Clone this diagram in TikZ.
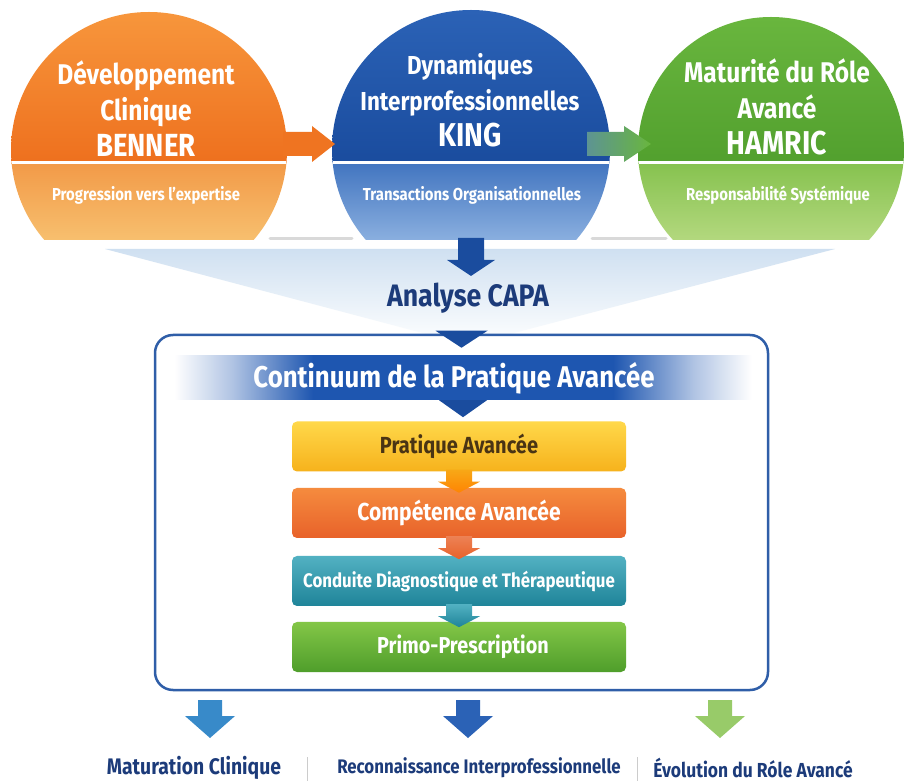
\documentclass[tikz,border=0pt]{standalone}
\usepackage{fontspec}
\setmainfont{Fira Sans}[FakeStretch=0.86]
\usetikzlibrary{positioning}
\usetikzlibrary{calc}

\definecolor{navytext}{HTML}{1C3B7A}
\definecolor{framelinecol}{HTML}{2F5EA8}
\definecolor{bandblue}{HTML}{1E56B0}
\definecolor{funnelblue}{HTML}{CFE0F1}
\definecolor{orangeA}{HTML}{F7963C}
\definecolor{orangeB}{HTML}{EE701E}
\definecolor{orangeC}{HTML}{F29A48}
\definecolor{orangeD}{HTML}{F7BF6E}
\definecolor{blueA}{HTML}{2B62B6}
\definecolor{blueB}{HTML}{1A4C9E}
\definecolor{blueC}{HTML}{4275C0}
\definecolor{blueD}{HTML}{8AAFDF}
\definecolor{greenA}{HTML}{69B63E}
\definecolor{greenB}{HTML}{52A02E}
\definecolor{greenC}{HTML}{86C24F}
\definecolor{greenD}{HTML}{B3D87E}
\definecolor{yellowA}{HTML}{FFD84A}
\definecolor{yellowB}{HTML}{F6B21C}
\definecolor{boxorangeA}{HTML}{F58B3E}
\definecolor{boxorangeB}{HTML}{E8622A}
\definecolor{tealA}{HTML}{52B1C2}
\definecolor{tealB}{HTML}{1F8499}
\definecolor{boxgreenA}{HTML}{83C647}
\definecolor{boxgreenB}{HTML}{4F9E2B}
\definecolor{browntext}{HTML}{4A3414}

\pgfdeclarehorizontalshading{bandfade}{100bp}{color(0bp)=(white); color(25bp)=(white); color(30bp)=(bandblue!35); color(37bp)=(bandblue); color(63bp)=(bandblue); color(70bp)=(bandblue!35); color(75bp)=(white); color(100bp)=(white)}

\tikzstyle{title}=[text=white,font=\bfseries\fontsize{28.5}{36}\selectfont,align=center]
\tikzstyle{subtitle}=[text=white,font=\bfseries\fontsize{17.3}{20}\selectfont]
\tikzstyle{heading}=[text=navytext,font=\bfseries\fontsize{31}{34}\selectfont]
\tikzstyle{continuumframe}=[draw=framelinecol,line width=2.5pt,fill=white,rounded corners=18pt,minimum width=613pt,minimum height=355pt]
\tikzstyle{band}=[shading=bandfade,minimum width=577pt,minimum height=44pt,text=white,font=\bfseries\fontsize{30}{32}\selectfont]
\tikzstyle{stepbox}=[rounded corners=5pt,minimum width=334pt,minimum height=50pt,font=\bfseries\fontsize{23.3}{26}\selectfont]
\tikzstyle{outcome}=[text=navytext,font=\bfseries\fontsize{20.3}{24}\selectfont]
\tikzstyle{separator}=[draw=gray!40,line width=1pt]

% down block arrow: start, half shaft, shaft length, half head, head length, fill options
\newcommand{\flowarrow}[6]{%
  \path[#6] (#1) ++(-#2,0) -- ++(0,#3) -- ++(#2-#4,0) -- ++(#4,#5) -- ++(#4,-#5) -- ++(#2-#4,0) -- ++(0,-#3) -- cycle;}

\begin{document}
\begin{tikzpicture}[x=1pt,y=-1pt]

    \useasboundingbox (0,0) rectangle (914,783);
    \fill[white] (0,0) rectangle (914,783);

    % funnel behind the three circles
    \shade[top color=funnelblue,bottom color=white] (105,249) -- (835,249) -- (468,345) -- cycle;

    \foreach \cx/\cy/\r/\upA/\upB/\lowA/\lowB/\name in {149/150/138/orangeA/orangeB/orangeC/orangeD/benner, 471/149/139/blueA/blueB/blueC/blueD/king, 771/150/133/greenA/greenB/greenC/greenD/hamric} {
        \coordinate (\name) at (\cx,\cy);
        \begin{scope}
            \clip (\cx,\cy) circle (\r);
            \shade[top color=\upA,bottom color=\upB] (\cx-\r,\cy-\r) rectangle (\cx+\r,163);
            \shade[top color=\lowA,bottom color=\lowB] (\cx-\r,163) rectangle (\cx+\r,240);
            \draw[white,line width=3pt] (\cx-\r,163) -- (\cx+\r,163);
        \end{scope}
    }

    \draw[gray!30,line width=3pt,line cap=round] (270,239) -- (352,239);
    \draw[gray!30,line width=3pt,line cap=round] (592,239) -- (666,239);

    \node[title] (t1) at (146,109) {Développement\\Clinique\\{\fontsize{32}{36}\selectfont BENNER}};
    \node[title,font=\bfseries\fontsize{26}{36}\selectfont] (t2) at (470,100) {Dynamiques\\Interprofessionnelles\\{\fontsize{33}{38}\selectfont KING}};
    \node[title] (t3) at (777,107) {Maturité du Róle\\Avancé\\{\fontsize{33}{36}\selectfont HAMRIC}};

    \node[subtitle] (s1) at (146,195) {Progression vers l’expertise};
    \node[subtitle] (s2) at (472,195) {Transactions Organisationnelles};
    \node[subtitle] (s3) at (778,195) {Responsabilité Systémique};

    % arrows between the circles
    \path[fill=orangeB!90!orangeA] ($(benner)+(134,-6)$) ++(0,-12) -- ++(29,0) -- ++(0,-6) -- ++(23,18) -- ++(-23,18) -- ++(0,-6) -- ++(-29,0) -- cycle;
    \path[left color=greenC!40!blueC,right color=greenA] ($(king)+(116,-5)$) ++(0,-12) -- ++(37,0) -- ++(0,-6) -- ++(27,18) -- ++(-27,18) -- ++(0,-6) -- ++(-37,0) -- cycle;

    \flowarrow{$(king)+(0,89)$}{13}{22}{24}{16}{fill=blueB}

    \node[heading] (capa) at (468,298) {Analyse CAPA};

    \node[continuumframe] (continuum) at (461.5,512.5) {};
    \fill[blueB] ($(continuum.north)+(-26,-3)$) -- ++(52,0) -- ++(-26,17) -- cycle;

    \node[band] (band) at (463,378) {\hspace*{-18pt}Continuum de la Pratique Avancée};
    \fill[blueB] ($(band.south)+(-24,0)$) -- ++(48,0) -- ++(-24,17) -- cycle;

    \foreach \name/\y/\ca/\cb/\tc/\txt in {p1/446.5/yellowA/yellowB/browntext/Pratique Avancée, p2/513/boxorangeA/boxorangeB/white/{\fontsize{24.5}{26}\selectfont Compétence Avancée}, p3/581/tealA/tealB/white/{\fontsize{19.6}{24}\selectfont Conduite Diagnostique et Thérapeutique}, p4/647/boxgreenA/boxgreenB/white/{\fontsize{23}{26}\selectfont\hspace*{8pt}Primo-Prescription}}
        \node[stepbox,top color=\ca,bottom color=\cb,text=\tc] (\name) at (459,\y) {\txt};

    \flowarrow{$(p1.south)+(0,-2)$}{13}{12}{21}{11}{top color=yellowB!80!orange,bottom color=orange!90!yellowB}
    \flowarrow{$(p2.south)+(0,-2)$}{13}{12}{21}{11}{top color=boxorangeB!80!white,bottom color=boxorangeB}
    \flowarrow{$(p3.south)+(0,-2)$}{13}{12}{21}{11}{top color=tealA,bottom color=tealB}

    % outcomes
    \coordinate (outL) at (210,700);
    \coordinate (outM) at (468,700);
    \coordinate (outR) at (720,700);
    \flowarrow{outL}{12}{16}{25}{22}{fill=blueC!85!cyan}
    \flowarrow{outM}{12}{16}{25}{22}{fill=blueA}
    \flowarrow{outR}{12}{16}{25}{22}{fill=greenC!85!white}

    \node[outcome,font=\bfseries\fontsize{22.5}{24}\selectfont] (o1) at (194,768) {Maturation Clinique};
    \node[outcome,font=\bfseries\fontsize{19.6}{24}\selectfont] (o2) at (479,768) {Reconnaissance Interprofessionnelle};
    \node[outcome] (o3) at (753,768) {Évolution du Róle Avancé};
    \draw[separator] (307,757) -- (307,781);
    \draw[separator] (637,757) -- (637,781);

\end{tikzpicture}
\end{document}
